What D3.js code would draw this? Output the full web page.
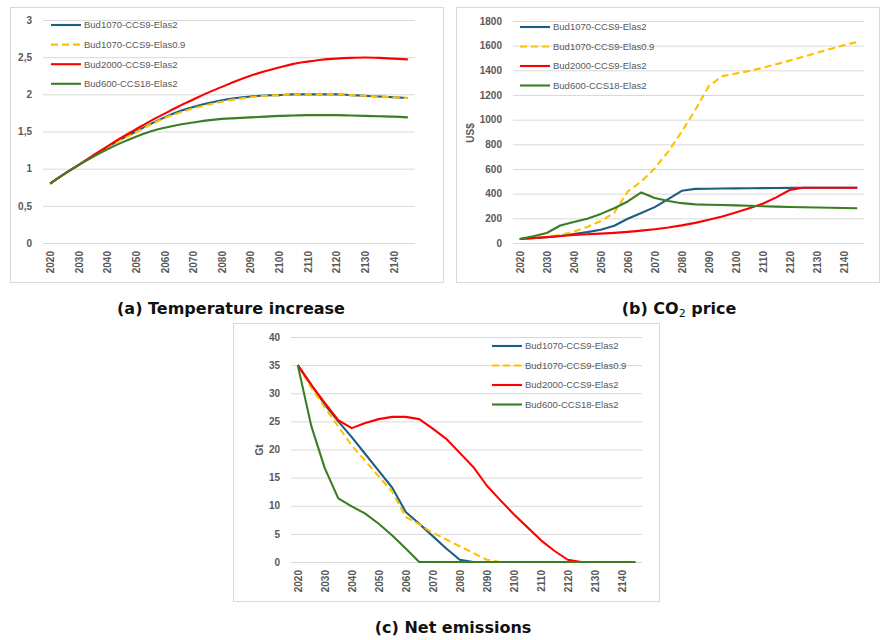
<!DOCTYPE html>
<html>
<head>
<meta charset="utf-8">
<script src="https://cdn.jsdelivr.net/npm/d3@7"></script>
<style>
  html, body { margin: 0; padding: 0; background: #ffffff; }
  svg { display: block; }
</style>
</head>
<body>
<svg id="chart" width="880" height="640"></svg>
<script>
// Years on the category axis (every 5 years), labelled every 10 years
const years = d3.range(2020, 2146, 5);
const yearLabels = d3.range(2020, 2141, 10);

const seriesNames = ["Bud1070-CCS9-Elas2", "Bud1070-CCS9-Elas0.9", "Bud2000-CCS9-Elas2", "Bud600-CCS18-Elas2"];
const seriesColors = ["#1b5e86", "#ffc000", "#ff0000", "#3b7d23"];
const seriesDash = [null, "7,4", null, null];

// (a) Temperature increase (°C)
const tempBud1070Elas2 = [0.80, 0.93, 1.05, 1.17, 1.29, 1.40, 1.50, 1.60, 1.69, 1.77, 1.83, 1.88, 1.92, 1.95, 1.97, 1.985, 1.99, 2.00, 2.00, 2.00, 2.00, 1.99, 1.98, 1.97, 1.96, 1.95];
const tempBud1070Elas09 = [0.80, 0.93, 1.05, 1.17, 1.29, 1.39, 1.49, 1.59, 1.68, 1.75, 1.81, 1.86, 1.90, 1.935, 1.96, 1.98, 1.99, 2.00, 2.00, 2.00, 2.00, 1.99, 1.98, 1.97, 1.96, 1.95];
const tempBud2000Elas2 = [0.80, 0.93, 1.05, 1.18, 1.30, 1.42, 1.53, 1.64, 1.74, 1.84, 1.93, 2.02, 2.10, 2.18, 2.25, 2.31, 2.36, 2.41, 2.44, 2.465, 2.48, 2.49, 2.495, 2.49, 2.48, 2.47];
const tempBud600Elas2 = [0.80, 0.93, 1.05, 1.16, 1.26, 1.35, 1.43, 1.50, 1.55, 1.59, 1.62, 1.65, 1.67, 1.68, 1.69, 1.70, 1.71, 1.715, 1.72, 1.72, 1.72, 1.715, 1.71, 1.705, 1.70, 1.69];
const tempTicks = [0, 0.5, 1, 1.5, 2, 2.5, 3];

// (b) CO2 price (US$)
const priceBud1070Elas2 = [32, 38, 46, 57, 73, 88, 108, 140, 197, 243, 291, 356, 423, 439, 440, 442, 443, 444, 445, 446, 447, 448, 448, 448, 448, 448];
const priceBud1070Elas09 = [32, 40, 50, 65, 92, 130, 178, 245, 418, 498, 606, 741, 903, 1078, 1272, 1353, 1374, 1395, 1420, 1450, 1479, 1510, 1542, 1573, 1603, 1630];
const priceBud2000Elas2 = [32, 40, 48, 57, 65, 71, 76, 82, 90, 100, 112, 126, 143, 163, 188, 215, 248, 282, 318, 370, 430, 448, 448, 448, 448, 448];
const priceBud600Elas2 = [32, 55, 81, 142, 170, 197, 236, 282, 337, 410, 365, 340, 323, 313, 310, 308, 305, 302, 298, 295, 292, 290, 288, 286, 284, 282];
const priceTicks = d3.range(0, 1801, 200);

// (c) Net emissions (Gt)
const emisBud1070Elas2 = [35, 31.5, 28, 25, 22.2, 19.2, 16.2, 13.2, 8.9, 6.8, 4.6, 2.4, 0.4, 0, 0, 0, 0, 0, 0, 0, 0, 0, 0, 0, 0, 0];
const emisBud1070Elas09 = [35, 31, 27.5, 24.1, 20.7, 18, 15.2, 12.5, 8.0, 6.7, 5.2, 4.0, 2.8, 1.6, 0.4, 0, 0, 0, 0, 0, 0, 0, 0, 0, 0, 0];
const emisBud2000Elas2 = [35, 31.5, 28.3, 25.2, 23.8, 24.7, 25.4, 25.8, 25.8, 25.4, 23.7, 21.9, 19.4, 16.9, 13.6, 11.0, 8.5, 6.2, 3.9, 2.0, 0.4, 0, 0, 0, 0, 0];
const emisBud600Elas2 = [35, 24.2, 16.7, 11.3, 9.9, 8.6, 6.8, 4.7, 2.4, 0, 0, 0, 0, 0, 0, 0, 0, 0, 0, 0, 0, 0, 0, 0, 0, 0];
const emisTicks = d3.range(0, 41, 5);

const svg = d3.select("#chart");
const GRID = "#d9d9d9";
const TEXT = "#595959";
const FONT = "'Liberation Sans', Arial, sans-serif";

function drawPanel(cfg) {
  const g = svg.append("g");

  // chart frame
  g.append("rect")
    .attr("x", cfg.box[0] + 0.5).attr("y", cfg.box[1] + 0.5)
    .attr("width", cfg.box[2] - cfg.box[0] - 1).attr("height", cfg.box[3] - cfg.box[1] - 1)
    .attr("fill", "#ffffff").attr("stroke", GRID).attr("stroke-width", 1);

  const [x0, y0, x1, y1] = cfg.plot;
  const x = d3.scalePoint().domain(years).range([x0, x1]).padding(0.5);
  const y = d3.scaleLinear().domain([cfg.ticks[0], cfg.ticks[cfg.ticks.length - 1]]).range([y1, y0]);

  // horizontal gridlines with value labels
  const yAxis = g.append("g")
    .attr("transform", `translate(${x0},0)`)
    .call(d3.axisLeft(y).tickValues(cfg.ticks).tickSize(-(x1 - x0)).tickPadding(11).tickFormat(cfg.fmt));
  yAxis.select(".domain").remove();
  yAxis.selectAll(".tick line").attr("stroke", GRID).attr("stroke-width", 1);
  yAxis.selectAll(".tick text")
    .attr("fill", TEXT).attr("font-family", FONT).attr("font-size", 10).attr("font-weight", "bold");

  // category labels, rotated
  const xAxis = g.append("g")
    .attr("transform", `translate(0,${y1})`)
    .call(d3.axisBottom(x).tickValues(yearLabels).tickSize(0).tickFormat(d3.format("d")));
  xAxis.select(".domain").remove();
  xAxis.selectAll(".tick text")
    .attr("fill", TEXT).attr("font-family", FONT).attr("font-size", 10).attr("font-weight", "bold")
    .attr("transform", "rotate(-90)")
    .attr("text-anchor", "end")
    .attr("x", -8).attr("y", 0).attr("dy", "0.35em");

  // axis title
  if (cfg.yTitle) {
    g.append("text")
      .attr("transform", `translate(${cfg.yTitle[1]},${cfg.yTitle[2]}) rotate(-90)`)
      .attr("text-anchor", "middle").attr("dy", "0.35em")
      .attr("fill", TEXT).attr("font-family", FONT).attr("font-size", 10).attr("font-weight", "bold")
      .text(cfg.yTitle[0]);
  }

  // series lines
  const line = d3.line()
    .x((d, i) => x(years[i]))
    .y(d => y(d))
    .curve(cfg.curve);
  cfg.series.forEach((vals, i) => {
    g.append("path")
      .datum(vals)
      .attr("d", line)
      .attr("fill", "none")
      .attr("stroke", seriesColors[i])
      .attr("stroke-width", 2.1)
      .attr("stroke-linejoin", "round")
      .attr("stroke-dasharray", seriesDash[i]);
  });

  // legend
  const [lx, ly, step] = cfg.legend;
  seriesNames.forEach((name, i) => {
    const row = g.append("g").attr("transform", `translate(${lx},${ly + i * step})`);
    row.append("line")
      .attr("x1", 0).attr("x2", 30).attr("y1", 0).attr("y2", 0)
      .attr("stroke", seriesColors[i]).attr("stroke-width", 2.1)
      .attr("stroke-dasharray", seriesDash[i]);
    row.append("text")
      .attr("x", 33).attr("y", 0).attr("dy", "0.35em")
      .attr("fill", TEXT).attr("font-family", FONT).attr("font-size", 9.5)
      .text(name);
  });
}

const commaFmt = d => String(d).replace(".", ",");

drawPanel({
  box: [10, 7, 444, 283], plot: [43, 20, 415, 243],
  ticks: tempTicks, fmt: commaFmt, curve: d3.curveMonotoneX,
  series: [tempBud1070Elas2, tempBud1070Elas09, tempBud2000Elas2, tempBud600Elas2],
  legend: [51, 25, 19.6]
});

drawPanel({
  box: [456, 7, 880, 283], plot: [513, 21, 864, 243],
  ticks: priceTicks, fmt: d3.format("d"), curve: d3.curveLinear,
  series: [priceBud1070Elas2, priceBud1070Elas09, priceBud2000Elas2, priceBud600Elas2],
  legend: [520, 27, 19.5], yTitle: ["US$", 470, 133]
});

drawPanel({
  box: [233, 323, 660, 602], plot: [291, 337, 642, 562],
  ticks: emisTicks, fmt: d3.format("d"), curve: d3.curveLinear,
  series: [emisBud1070Elas2, emisBud1070Elas09, emisBud2000Elas2, emisBud600Elas2],
  legend: [492, 346, 19.5], yTitle: ["Gt", 259, 450]
});

// sub-figure captions
const CAP_FONT = "'DejaVu Sans', 'Liberation Sans', sans-serif";
function caption(cx, cy, parts) {
  const t = svg.append("text")
    .attr("x", cx).attr("y", cy)
    .attr("text-anchor", "middle")
    .attr("font-family", CAP_FONT).attr("font-size", 16).attr("font-weight", "bold")
    .attr("fill", "#111111");
  parts.forEach(p => {
    const s = t.append("tspan").text(p.t);
    if (p.sub) s.attr("font-size", 11).attr("font-weight", "normal").attr("dy", 3);
    if (p.after) s.attr("dy", -3);
  });
}
caption(231, 314, [{ t: "(a) Temperature increase" }]);
caption(679, 314, [{ t: "(b) CO" }, { t: "2", sub: true }, { t: " price", after: true }]);
caption(453, 633, [{ t: "(c) Net emissions" }]);
</script>
</body>
</html>
